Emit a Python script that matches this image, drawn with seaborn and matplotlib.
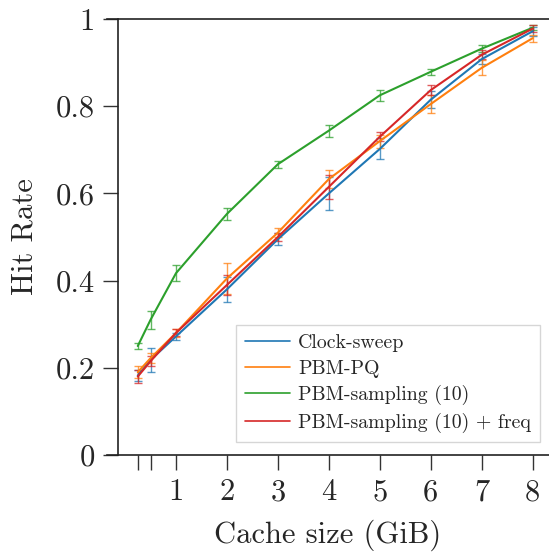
import numpy as np
import pandas as pd
import matplotlib
matplotlib.use("Agg")
import matplotlib.pyplot as plt
import seaborn as sns

# ---- data ----
cache_sizes = [0.25, 0.5, 1, 2, 3, 4, 5, 6, 7, 8]
series_names = ["Clock-sweep", "PBM-PQ", "PBM-sampling (10)", "PBM-sampling (10) + freq"]
clock_sweep = [0.182, 0.218, 0.272, 0.380, 0.495, 0.600, 0.702, 0.815, 0.908, 0.972]
clock_sweep_err = [0.012, 0.027, 0.008, 0.028, 0.014, 0.038, 0.024, 0.020, 0.012, 0.010]
pbm_pq = [0.190, 0.222, 0.280, 0.405, 0.510, 0.633, 0.720, 0.805, 0.888, 0.956]
pbm_pq_err = [0.014, 0.012, 0.010, 0.035, 0.010, 0.021, 0.015, 0.020, 0.017, 0.008]
pbm_sampling = [0.250, 0.310, 0.417, 0.553, 0.667, 0.744, 0.825, 0.879, 0.932, 0.980]
pbm_sampling_err = [0.008, 0.020, 0.018, 0.014, 0.008, 0.014, 0.012, 0.007, 0.008, 0.006]
pbm_sampling_freq = [0.180, 0.215, 0.280, 0.390, 0.500, 0.615, 0.730, 0.837, 0.918, 0.978]
pbm_sampling_freq_err = [0.015, 0.012, 0.008, 0.022, 0.010, 0.027, 0.010, 0.012, 0.010, 0.008]

x_ticks = [0.25, 0.5, 1, 2, 3, 4, 5, 6, 7, 8]
x_tick_labels = ["", "", "1", "2", "3", "4", "5", "6", "7", "8"]
y_ticks = [0, 0.2, 0.4, 0.6, 0.8, 1]
y_tick_labels = ["0", "0.2", "0.4", "0.6", "0.8", "1"]

values = [clock_sweep, pbm_pq, pbm_sampling, pbm_sampling_freq]
errors = [clock_sweep_err, pbm_pq_err, pbm_sampling_err, pbm_sampling_freq_err]

df = pd.DataFrame({
    "Cache size (GiB)": np.tile(cache_sizes, len(series_names)),
    "Hit Rate": np.concatenate(values),
    "err": np.concatenate(errors),
    "Policy": np.repeat(series_names, len(cache_sizes)),
})

# ---- style ----
sns.set_style("ticks")
plt.rcParams["font.family"] = ["cmr10", "DejaVu Serif"]
plt.rcParams["axes.formatter.use_mathtext"] = True
plt.rcParams["mathtext.fontset"] = "cm"

palette = sns.color_palette("tab10", 4)

W, H = 549, 552
fig = plt.figure(figsize=(W / 100, H / 100), dpi=100)
ax_left, ax_right, ax_top, ax_bottom = 107, 549, 19, 455
ax = fig.add_axes([ax_left / W, 1 - ax_bottom / H, (ax_right - ax_left) / W, (ax_bottom - ax_top) / H])

# x scale: 1 -> 176 px, 8 -> 532.7 px
ppu = (532.7 - 176) / 7
xmin = 1 - (176 - ax_left) / ppu
xmax = 1 + (ax_right - 176) / ppu
left_spine_x = 1 - (176 - 118.3) / ppu

for (name, grp), col in zip(df.groupby("Policy", sort=False), palette):
    ax.errorbar(grp["Cache size (GiB)"], grp["Hit Rate"], yerr=grp["err"], fmt="none",
                ecolor=col, elinewidth=1.0, capsize=3, capthick=1.0, alpha=0.75, zorder=2)

sns.lineplot(data=df, x="Cache size (GiB)", y="Hit Rate", hue="Policy",
             palette=palette, linewidth=1.5, ax=ax, zorder=3, errorbar=None)

ax.set_xlim(xmin, xmax)
ax.set_ylim(0, 1)
ax.set_xticks(x_ticks)
ax.set_xticklabels(x_tick_labels)
ax.set_yticks(y_ticks)
ax.set_yticklabels(y_tick_labels)
ax.tick_params(axis="both", direction="out", length=11, width=1.0, labelsize=22,
               color="#333333", pad=6)
ax.set_xlabel("Cache size (GiB)", fontsize=22, labelpad=10)
ax.set_ylabel("Hit Rate", fontsize=22, labelpad=12)

for s in ["left", "top", "bottom"]:
    ax.spines[s].set_color("#222222")
    ax.spines[s].set_linewidth(1.2)
ax.spines["right"].set_visible(False)
ax.spines["left"].set_position(("data", left_spine_x))

leg = ax.legend(loc="lower right", bbox_to_anchor=(0.98, 0.03), borderaxespad=0,
                fontsize=14.3, frameon=True, fancybox=False, handlelength=2.3,
                labelspacing=0.38, handletextpad=0.4, borderpad=0.45)
leg.get_frame().set_edgecolor("#cccccc")
leg.get_frame().set_linewidth(1.0)
for h in leg.get_lines():
    h.set_linewidth(1.2)

fig.savefig("out.png", dpi=100)
